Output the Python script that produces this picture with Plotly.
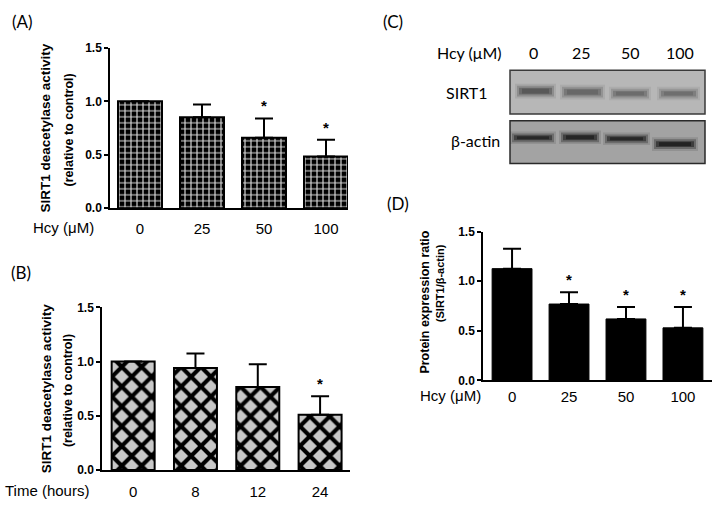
import plotly.graph_objects as go

W, H = 714, 508

# ---------------- data ----------------
hcy_labels = ["0", "25", "50", "100"]
time_labels = ["0", "8", "12", "24"]

a_vals = [1.00, 0.85, 0.66, 0.485]
a_err = [0.0, 0.12, 0.18, 0.155]
a_sig = [False, False, True, True]

b_vals = [1.00, 0.94, 0.766, 0.51]
b_err = [0.0, 0.135, 0.21, 0.17]
b_sig = [False, False, False, True]

d_vals = [1.127, 0.77, 0.62, 0.53]
d_err = [0.20, 0.12, 0.12, 0.21]
d_sig = [False, True, True, True]

yticks = [0.0, 0.5, 1.0, 1.5]
ytick_text = ["0.0", "0.5", "1.0", "1.5"]

blot_rows = ["SIRT1", "β-actin"]

# ---------------- helpers ----------------
def px(x):
    return x / W


def py(y):
    return 1 - y / H


ARIAL = "Arial, Liberation Sans, sans-serif"
CAL = "Lato, Carlito, Calibri, sans-serif"

fig = go.Figure()

def add_bar(cats, vals, errs, xa, ya, bg, pat, width, line_w):
    fig.add_trace(go.Bar(
        x=list(range(len(cats))), y=vals, xaxis=xa, yaxis=ya, width=width,
        marker=dict(color=bg, line=dict(color="black", width=line_w), pattern=pat),
        error_y=dict(type="data", symmetric=False, array=errs,
                     arrayminus=[0] * len(errs), color="black",
                     thickness=2, width=9),
        showlegend=False, hoverinfo="skip"))

add_bar(hcy_labels, a_vals, a_err, "x", "y", "black",
        dict(shape="+", bgcolor="black", fgcolor="white", fgopacity=0.85,
             size=6, solidity=0.35, fillmode="overlay"), 0.71, 2)
add_bar(time_labels, b_vals, b_err, "x2", "y2", "#c8c8c8",
        dict(shape="x", bgcolor="#c8c8c8", fgcolor="black", fgopacity=1,
             size=14, solidity=0.5, fillmode="overlay"), 0.69, 2)
add_bar(hcy_labels, d_vals, d_err, "x3", "y3", "black", None, 0.70, 1)

# significance asterisks
for cats, vals, errs, sig, xa, ya in [
    (hcy_labels, a_vals, a_err, a_sig, "x", "y"),
    (time_labels, b_vals, b_err, b_sig, "x2", "y2"),
    (hcy_labels, d_vals, d_err, d_sig, "x3", "y3"),
]:
    for i, (v, e, s) in enumerate(zip(vals, errs, sig)):
        if s:
            fig.add_annotation(x=i, y=v + e, xref=xa, yref=ya, text="*",
                               showarrow=False, yanchor="bottom", yshift=2,
                               font=dict(family=ARIAL, size=15, color="black", weight="bold"))

axis_common = dict(showgrid=False, zeroline=False, showline=True,
                   linecolor="black", linewidth=1.5, mirror=False, fixedrange=True)

def xaxis_cfg(dom, rng, stand, labels):
    return dict(domain=[px(dom[0]), px(dom[1])], range=rng,
                tickvals=list(range(len(labels))), ticktext=labels,
                ticks="outside", ticklen=stand, tickcolor="rgba(0,0,0,0)",
                tickfont=dict(family=ARIAL, size=15, color="black"),
                **axis_common)

def yaxis_cfg(dom, anchor):
    return dict(domain=[py(dom[1]), py(dom[0])], range=[0, 1.5],
                tickvals=yticks, ticktext=ytick_text, ticks="outside",
                ticklen=4, tickwidth=1.5, tickcolor="black", anchor=anchor,
                tickfont=dict(family=ARIAL, size=12, color="black", weight="bold"),
                **axis_common)

fig.update_layout(
    width=W, height=H, margin=dict(l=0, r=0, t=0, b=0),
    paper_bgcolor="white", plot_bgcolor="rgba(0,0,0,0)",
    xaxis=dict(**xaxis_cfg((110, 348), [-0.484, 3.355], 6, hcy_labels), anchor="y"),
    yaxis=yaxis_cfg((42, 207), "x"),
    xaxis2=dict(**xaxis_cfg((102, 350), [-0.5, 3.48], 7, time_labels), anchor="y2"),
    yaxis2=yaxis_cfg((309, 476), "x2"),
    xaxis3=dict(**xaxis_cfg((483, 712), [-0.51, 3.51], 2, hcy_labels), anchor="y3"),
    yaxis3=yaxis_cfg((231, 384), "x3"),
)

def text(x, y, t, size, family=ARIAL, bold=False, angle=0, xanchor="center"):
    fig.add_annotation(x=px(x), y=py(y), xref="paper", yref="paper", text=t,
                       showarrow=False, textangle=angle, xanchor=xanchor,
                       yanchor="middle",
                       font=dict(family=family, size=size, color="black",
                                 weight="bold" if bold else "normal"))

# panel letters
text(22, 15, "(A)", 17, CAL)
text(21, 273, "(B)", 17, CAL)
text(393, 15, "(C)", 17, CAL)
text(398, 202, "(D)", 17, CAL)

# x-axis titles
text(63, 227, "Hcy (μM)", 15)
text(47, 497, "Time (hours)", 15)
text(450, 399, "Hcy (μM)", 15)

# y-axis titles
text(46, 124, "SIRT1 deacetylase activity", 13.5, bold=True, angle=-90)
text(68, 127, "(relative to control)", 12.5, bold=True, angle=-90)
text(46, 392, "SIRT1 deacetylase activity", 13.5, bold=True, angle=-90)
text(68, 395, "(relative to control)", 12.5, bold=True, angle=-90)
text(425, 304, "Protein expression ratio", 12.5, bold=True, angle=-90)
text(440, 284, "(SIRT1/β-actin)", 11, bold=True, angle=-90)

# ---------------- panel C : western blot ----------------
text(469, 47, "Hcy (μM)", 16, CAL)
for lab, cx in zip(hcy_labels, [533, 581, 630, 680]):
    text(cx, 47, lab, 16, CAL)
text(490, 88, blot_rows[0], 16, CAL, xanchor="right")
text(502, 137, blot_rows[1], 16, CAL, xanchor="right")

def rect(x0, y0, x1, y1, fill, line_color=None, lw=0, opacity=1.0):
    fig.add_shape(type="rect", xref="paper", yref="paper",
                  x0=px(x0), x1=px(x1), y0=py(y1), y1=py(y0),
                  fillcolor=fill, opacity=opacity, layer="above",
                  line=dict(color=line_color or fill, width=lw))

rect(510, 65, 705, 110, "#b7b7b7", "#3a3a3a", 1.5)
rect(510, 117, 705, 161, "#a3a3a3", "#2a2a2a", 1.5)

sirt_bands = [(518, 553, 82, 91, "#4c4c4c"), (563, 602, 83, 92, "#5e5e5e"),
              (612, 648, 85, 93, "#626262"), (660, 697, 85, 93, "#666666")]
actin_bands = [(513, 553, 131, 138, "#181818"), (562, 598, 130, 138, "#141414"),
               (606, 647, 132, 139, "#151515"), (655, 695, 137, 145, "#101010")]
for x0, x1, y0, y1, c in sirt_bands + actin_bands:
    rect(x0 - 3, y0 - 3, x1 + 3, y1 + 3, c, lw=0, opacity=0.12)
    rect(x0 - 1, y0 - 1, x1 + 1, y1 + 1, c, lw=0, opacity=0.3)
    rect(x0 + 1, y0 + 1, x1 - 1, y1 - 1, c, lw=0, opacity=0.5)
    rect(x0 + 4, y0 + 2, x1 - 4, y1 - 2, c, lw=0, opacity=0.6)

fig.write_html("out.html", config={"displayModeBar": False},
               post_script="document.body.style.margin='0px';document.body.style.overflow='hidden';")
